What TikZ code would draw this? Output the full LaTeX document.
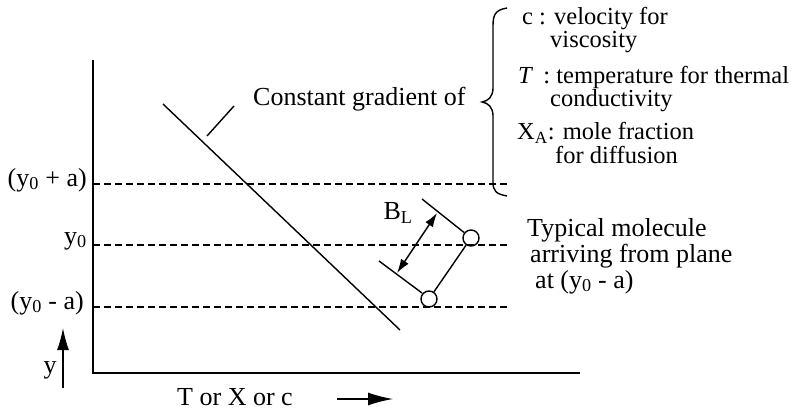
\documentclass[tikz,border=0pt]{standalone}
\usepackage{fontspec}
\setmainfont{Liberation Serif}
\usetikzlibrary{arrows.meta}
\begin{document}
\begin{tikzpicture}[x=1pt,y=-1pt,
  txt/.style={font=\fontsize{26}{28}\selectfont, inner sep=0pt},
  axisline/.style={line width=1.8pt},
  level/.style={line width=1.5pt, dash pattern=on 7pt off 4pt},
  thin/.style={line width=1.4pt},
  mol/.style={circle, draw, line width=1.4pt, minimum size=16pt, inner sep=0pt}]
\useasboundingbox (0,0) rectangle (811,412);
% axes
\coordinate (ytop) at (93,60);
\coordinate (orig) at (93,373);
\coordinate (xend) at (580,373);
\draw[axisline] (ytop) -- (orig) -- (xend);
% levels
\coordinate (pa) at (93,184); \coordinate (pae) at (507,184);
\coordinate (pz) at (93,245); \coordinate (pze) at (507,245);
\coordinate (pm) at (93,307); \coordinate (pme) at (507,307);
\draw[level] (pa) -- (pae);
\draw[level] (pz) -- (pze);
\draw[level] (pm) -- (pme);
\node[txt, anchor=east] (lpa) at (87,180) {(y\textsubscript{0} + a)};
\node[txt, anchor=east] (lpz) at (87,241) {y\textsubscript{0}};
\node[txt, anchor=east] (lpm) at (84,303) {(y\textsubscript{0} - a)};
% y arrow
\coordinate (ya) at (63,388); \coordinate (yb) at (63,328);
\draw[thin, -{Latex[length=22pt,width=12pt]}] (ya) -- (yb);
\node[txt] (ylab) at (50,370) {y};
% x label
\node[txt] (xlab) at (235,397) {T or X or c};
\coordinate (xa) at (337,399); \coordinate (xb) at (393,399);
\draw[thin, -{Latex[length=25pt,width=13pt]}] (xa) -- (xb);
% gradient line
\coordinate (g1) at (163,104); \coordinate (g2) at (400,330);
\draw[thin] (g1) -- (g2);
\coordinate (t1) at (207,136); \coordinate (t2) at (234,106);
\draw[thin] (t1) -- (t2);
\node[txt, anchor=west] (cg) at (253,99) {Constant gradient of};
% brace
\draw[thin] (507,8) .. controls (495,10) and (493,15) .. (493,26) -- (493,88)
  .. controls (493,97) and (488,101) .. (482,102)
  .. controls (488,103) and (493,107) .. (493,116) -- (493,182)
  .. controls (493,191) and (496,194) .. (507,196);
\node[txt, anchor=north west, align=left,
      font=\fontsize{24.5}{23}\selectfont] (cases) at (517,7) {%
  \hspace*{5pt}c : velocity for\\
  \hspace*{33pt}viscosity\\[13pt]
  \hspace*{1pt}\textit{T}\, : temperature for thermal\\
  \hspace*{33pt}conductivity\\[10pt]
  X\textsubscript{A}: mole fraction\\[1pt]
  \hspace*{38pt}for diffusion};
% molecule
\node[mol] (up) at (471,238) {};
\node[mol] (lo) at (429,299) {};
\coordinate (u1) at (422,199);
\coordinate (l1) at (379,261); \coordinate (l2) at (422,293);
\draw[thin] (u1) -- (up);
\draw[thin] (l1) -- (l2);
\draw[thin] (lo) -- (up);
\coordinate (ba) at (437,213); \coordinate (bb) at (397,273);
\draw[thin, {Latex[length=14pt,width=9pt]}-{Latex[length=14pt,width=9pt]}] (bb) -- (ba);
\node[txt] (bl) at (398,213) {B\textsubscript{L}};
\node[txt, anchor=west] (m1) at (527,230) {Typical molecule};
\node[txt, anchor=west] (m2) at (530,256) {arriving from plane};
\node[txt, anchor=west] (m3) at (535,282) {at (y\textsubscript{0} - a)};
\end{tikzpicture}
\end{document}
